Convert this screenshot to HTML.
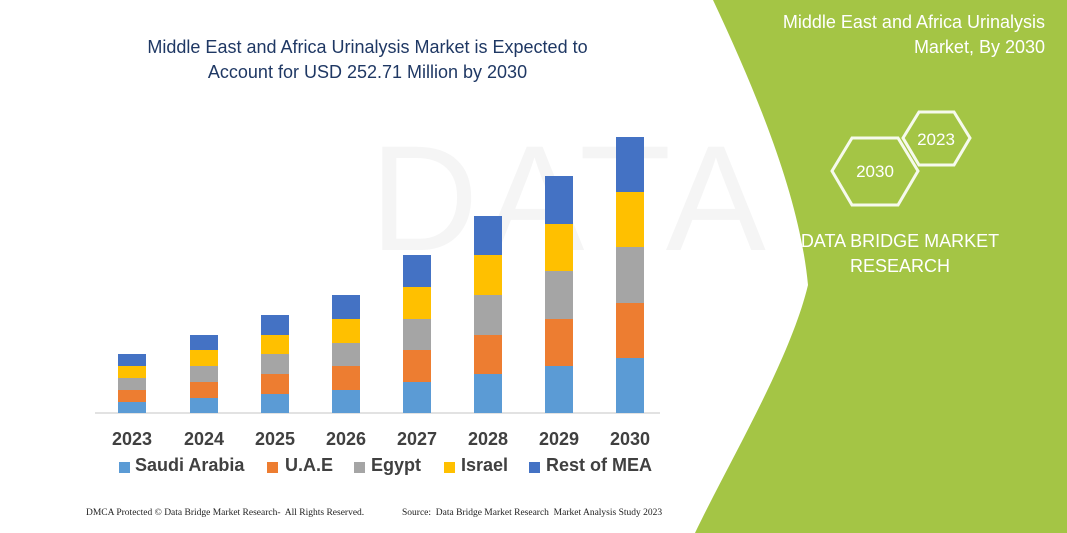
<!DOCTYPE html>
<html><head><meta charset="utf-8"><style>
body{margin:0;width:1067px;height:533px;overflow:hidden;background:#fff;font-family:"Liberation Sans",sans-serif;position:relative}
.t{position:absolute;white-space:nowrap}
.yr{position:absolute;top:429px;font-weight:bold;font-size:18px;color:#404040;width:60px;text-align:center;margin-left:-30px}
.lg{position:absolute;top:455px;font-weight:bold;font-size:18px;color:#404040}
.sq{position:absolute;top:462px;width:11px;height:11px}
</style></head><body>
<svg width="1067" height="533" style="position:absolute;left:0;top:0">
<text x="370" y="250" font-size="150" fill="#f5f5f5" font-family="Liberation Sans" letter-spacing="6">DATA BRIDGE</text>
<path d="M713,0 C760,100 800,200 808,285 C790,360 730,460 695,533 L1067,533 L1067,0 Z" fill="#a4c545"/>
<line x1="95" y1="413" x2="660" y2="413" stroke="#d9d9d9" stroke-width="1.5"/>
<g id="bars"></g>
<polygon points="903,138 919,112 954,112 970,138 954,165 919,165" fill="none" stroke="#fff" stroke-width="3" opacity="0.9"/>
<polygon points="832,171 852,138 898,138 918,171 898,205 852,205" fill="none" stroke="#fff" stroke-width="3" opacity="0.9"/>
<text x="936" y="145" font-size="17" fill="#fff" text-anchor="middle" font-family="Liberation Sans">2023</text>
<text x="875" y="177" font-size="17" fill="#fff" text-anchor="middle" font-family="Liberation Sans">2030</text>
</svg>
<div class="t" style="left:0;width:735px;text-align:center;top:35px;font-size:18px;line-height:25px;color:#1f3864">Middle East and Africa Urinalysis Market is Expected to<br>Account for USD 252.71 Million by 2030</div>
<div class="t" style="right:22px;top:10px;text-align:right;font-size:18px;line-height:25px;color:#fff">Middle East and Africa Urinalysis<br>Market, By 2030</div>
<div class="t" style="left:760px;width:280px;text-align:center;top:229px;font-size:18px;line-height:25px;color:#fff">DATA BRIDGE MARKET<br>RESEARCH</div>
<div class="yr" style="left:132px">2023</div><div class="yr" style="left:204px">2024</div><div class="yr" style="left:275px">2025</div><div class="yr" style="left:346px">2026</div><div class="yr" style="left:417px">2027</div><div class="yr" style="left:488px">2028</div><div class="yr" style="left:559px">2029</div><div class="yr" style="left:630px">2030</div>
<div class="sq" style="left:119px;background:#5b9bd5"></div><div class="lg" style="left:135px">Saudi Arabia</div>
<div class="sq" style="left:267px;background:#ed7d31"></div><div class="lg" style="left:285px">U.A.E</div>
<div class="sq" style="left:354px;background:#a5a5a5"></div><div class="lg" style="left:371px">Egypt</div>
<div class="sq" style="left:444px;background:#ffc000"></div><div class="lg" style="left:461px">Israel</div>
<div class="sq" style="left:529px;background:#4472c4"></div><div class="lg" style="left:546px">Rest of MEA</div>
<div class="t" style="left:86px;top:508px;font-size:9.5px;font-family:'Liberation Serif',serif;color:#222">DMCA Protected © Data Bridge Market Research-&nbsp; All Rights Reserved.</div>
<div class="t" style="left:402px;top:508px;font-size:9.5px;font-family:'Liberation Serif',serif;color:#222">Source:&nbsp; Data Bridge Market Research&nbsp; Market Analysis Study 2023</div>
<script>
var cx=[132,204,275,346,417,488,559,630];
var b=[[354,366,378,390,402],[335,350,366,382,398],[315,335,354,374,394],[295,319,343,366,390],[255,287,319,350,382],[216,255,295,335,374],[176,224,271,319,366],[137,192,247,303,358]];
var col=["#4472c4","#ffc000","#a5a5a5","#ed7d31","#5b9bd5"];
var s="";
for(var i=0;i<8;i++){for(var j=0;j<5;j++){var y0=b[i][j],y1=j<4?b[i][j+1]:413;s+='<rect x="'+(cx[i]-14)+'" y="'+y0+'" width="28" height="'+(y1-y0)+'" fill="'+col[j]+'"/>';}}
document.getElementById("bars").innerHTML=s;
</script>
</body></html>
